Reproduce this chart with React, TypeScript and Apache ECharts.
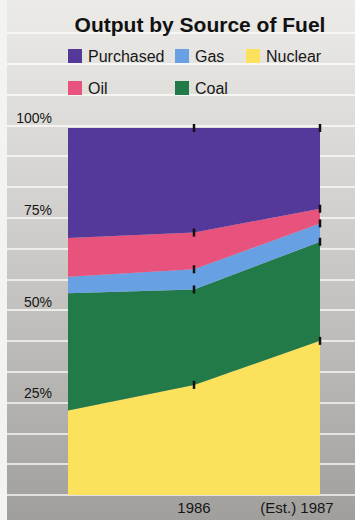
import React, { useEffect, useRef } from "react";
import * as echarts from "echarts";

// Share of output (%) by fuel, stacked bottom to top
const categories = ["1985", "1986", "1987"];
const xLabels = ["", "1986", "(Est.) 1987"];
const yLabelValues = [25, 50, 75, 100];

const nuclear = [23, 30, 42];
const coal = [32, 26, 27];
const gas = [4.5, 5.5, 5];
const oil = [10.5, 10, 4];
const purchased = [30, 28.5, 22];

const seriesDefs = [
  { name: "Nuclear", values: nuclear, color: "#fbe15c" },
  { name: "Coal", values: coal, color: "#217a47" },
  { name: "Gas", values: gas, color: "#68a0e4" },
  { name: "Oil", values: oil, color: "#e7537c" },
  { name: "Purchased", values: purchased, color: "#55399a" },
];

const FONT = "Liberation Sans";

export default function App() {
  const ref = useRef<HTMLDivElement>(null);

  useEffect(() => {
    if (!ref.current) return;
    const chart = echarts.init(ref.current, null, { renderer: "svg" });

    const legendPos: Record<string, [number, number]> = {
      Purchased: [68, 48],
      Gas: [175, 48],
      Nuclear: [246, 48],
      Oil: [68, 80],
      Coal: [175, 80],
    };

    const legends = Object.keys(legendPos).map((name) => ({
      data: [name],
      left: legendPos[name][0],
      top: legendPos[name][1],
      padding: 0,
      itemWidth: 14,
      itemHeight: 14,
      itemGap: 0,
      icon: "rect",
      selectedMode: false,
      textStyle: { fontFamily: FONT, fontSize: 16, color: "#161616", padding: [0, 0, 0, 1] },
    }));

    const areaSeries = seriesDefs.map((s) => ({
      name: s.name,
      type: "line",
      stack: "share",
      xAxisIndex: 0,
      yAxisIndex: 0,
      data: s.values,
      showSymbol: false,
      symbol: "none",
      lineStyle: { width: 0 },
      areaStyle: { color: s.color, opacity: 1 },
      itemStyle: { color: s.color },
      z: 2,
    }));

    // small black tick marks on each boundary at 1986 and 1987
    const tickSeries = seriesDefs.map((s) => ({
      name: s.name + "-tick",
      type: "line",
      stack: "ticks",
      xAxisIndex: 0,
      yAxisIndex: 0,
      data: s.values.map((v, i) => (i === 0 ? { value: v, symbol: "none" } : v)),
      symbol: "rect",
      symbolSize: [2.5, 8],
      showSymbol: true,
      lineStyle: { width: 0, opacity: 0 },
      itemStyle: { color: "#111" },
      z: 4,
      silent: true,
    }));

    chart.setOption({
      animation: false,
      backgroundColor: "#f3f3f1",
      title: {
        text: "Output by Source of Fuel",
        left: 195,
        textAlign: "center",
        top: 9,
        textStyle: { fontFamily: FONT, fontSize: 21, fontWeight: "bold", color: "#111" },
      },
      graphic: [
        {
          type: "rect",
          left: 7,
          top: 0,
          shape: { width: 348, height: 520 },
          style: {
            fill: new echarts.graphic.LinearGradient(0, 0, 0, 1, [
              { offset: 0, color: "#ecebe8" },
              { offset: 0.45, color: "#cfcdca" },
              { offset: 1, color: "#a19f9c" },
            ]),
          },
          z: -10,
          silent: true,
        },
      ],
      legend: legends,
      grid: [
        { left: 68, right: 35, top: 128, bottom: 25 },
        { left: 7, right: 0, top: 33, bottom: 25 },
      ],
      xAxis: [
        {
          type: "category",
          gridIndex: 0,
          data: categories,
          boundaryGap: false,
          axisLine: { show: false },
          axisTick: { show: false },
          axisLabel: {
            interval: 0,
            margin: 5,
            fontFamily: FONT,
            fontSize: 15,
            color: "#161616",
            formatter: (_v: string, i: number) =>
              i === 2 ? `{est|${xLabels[i]}}` : xLabels[i],
            rich: {
              est: { fontFamily: FONT, fontSize: 15, color: "#161616", padding: [0, 46, 0, 0] },
            },
          },
        },
        { type: "value", gridIndex: 1, show: false, min: 0, max: 1 },
      ],
      yAxis: [
        {
          type: "value",
          gridIndex: 0,
          min: 0,
          max: 100,
          interval: 25,
          splitLine: { show: false },
          axisLine: { show: false },
          axisTick: { show: false },
          axisLabel: {
            margin: 16,
            fontFamily: FONT,
            fontSize: 14,
            color: "#161616",
            verticalAlign: "bottom",
            padding: [0, 0, 3, 0],
            formatter: (v: number) => (yLabelValues.includes(v) ? `${v}%` : ""),
          },
        },
        {
          type: "value",
          gridIndex: 1,
          min: 0,
          max: 15,
          interval: 1,
          axisLine: { show: false },
          axisTick: { show: false },
          axisLabel: { show: false },
          splitLine: { show: true, lineStyle: { color: "#ffffff", width: 1.5, opacity: 0.9 } },
        },
      ],
      series: [...areaSeries, ...tickSeries],
    });

    return () => chart.dispose();
  }, []);

  return (
    <div
      ref={ref}
      style={{ position: "fixed", left: 0, top: 0, width: 355, height: 520 }}
    />
  );
}
